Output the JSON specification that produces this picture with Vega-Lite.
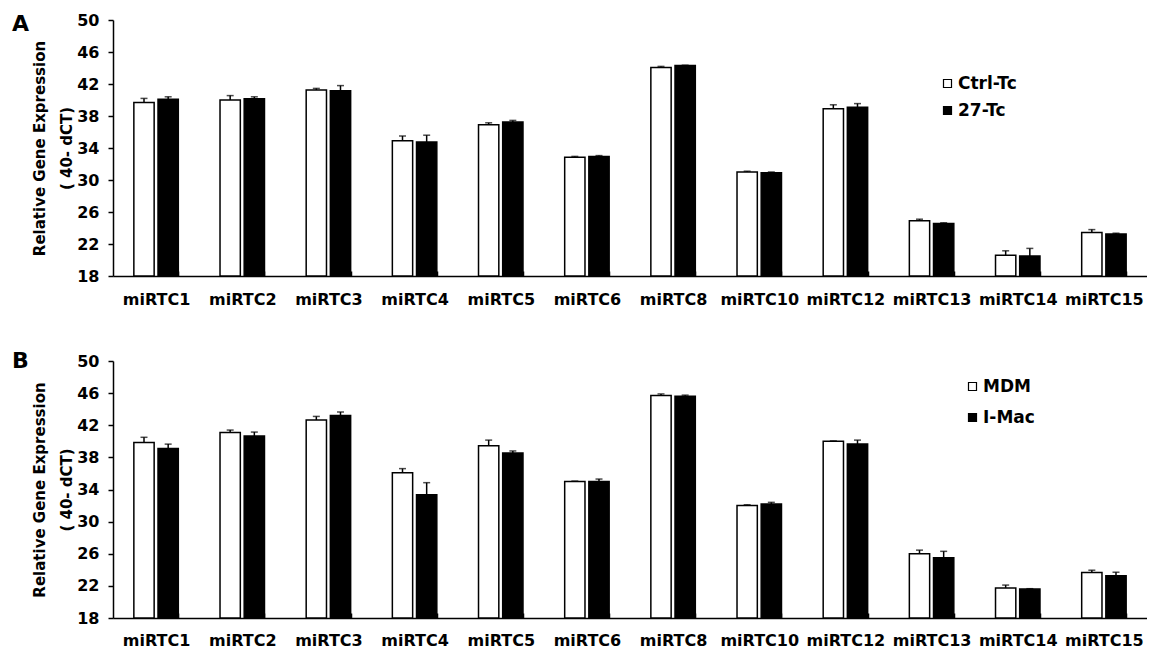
{
  "$schema": "https://vega.github.io/schema/vega-lite/v6.json",
  "background": "white",
  "padding": {"left": 12, "top": 12, "right": 0, "bottom": 0},
  "config": {
    "font": "DejaVu Sans",
    "view": {"stroke": null},
    "axis": {"domainColor": "black", "tickColor": "black", "domainWidth": 1.5, "tickWidth": 1.5, "labelColor": "black", "labelFont": "DejaVu Sans", "labelFontWeight": "bold", "titleFont": "DejaVu Sans", "titleFontWeight": "bold", "titleColor": "black", "grid": false},
    "concat": {"spacing": 43}
  },
  "datasets": {
    "d": [
      {"panel": "A", "gene": "miRTC1", "group": "Ctrl-Tc", "value": 39.7, "upper": 40.2},
      {"panel": "A", "gene": "miRTC1", "group": "27-Tc", "value": 40.1, "upper": 40.4},
      {"panel": "A", "gene": "miRTC2", "group": "Ctrl-Tc", "value": 40.0, "upper": 40.55},
      {"panel": "A", "gene": "miRTC2", "group": "27-Tc", "value": 40.15, "upper": 40.4},
      {"panel": "A", "gene": "miRTC3", "group": "Ctrl-Tc", "value": 41.25, "upper": 41.45},
      {"panel": "A", "gene": "miRTC3", "group": "27-Tc", "value": 41.15, "upper": 41.8},
      {"panel": "A", "gene": "miRTC4", "group": "Ctrl-Tc", "value": 34.9, "upper": 35.5},
      {"panel": "A", "gene": "miRTC4", "group": "27-Tc", "value": 34.75, "upper": 35.6},
      {"panel": "A", "gene": "miRTC5", "group": "Ctrl-Tc", "value": 36.9, "upper": 37.15},
      {"panel": "A", "gene": "miRTC5", "group": "27-Tc", "value": 37.25, "upper": 37.45},
      {"panel": "A", "gene": "miRTC6", "group": "Ctrl-Tc", "value": 32.85, "upper": 32.95},
      {"panel": "A", "gene": "miRTC6", "group": "27-Tc", "value": 32.95, "upper": 33.05},
      {"panel": "A", "gene": "miRTC8", "group": "Ctrl-Tc", "value": 44.05, "upper": 44.2},
      {"panel": "A", "gene": "miRTC8", "group": "27-Tc", "value": 44.3, "upper": 44.35},
      {"panel": "A", "gene": "miRTC10", "group": "Ctrl-Tc", "value": 31.0, "upper": 31.1},
      {"panel": "A", "gene": "miRTC10", "group": "27-Tc", "value": 30.9, "upper": 31.0},
      {"panel": "A", "gene": "miRTC12", "group": "Ctrl-Tc", "value": 38.9, "upper": 39.4},
      {"panel": "A", "gene": "miRTC12", "group": "27-Tc", "value": 39.1, "upper": 39.55},
      {"panel": "A", "gene": "miRTC13", "group": "Ctrl-Tc", "value": 24.9, "upper": 25.1},
      {"panel": "A", "gene": "miRTC13", "group": "27-Tc", "value": 24.55, "upper": 24.65},
      {"panel": "A", "gene": "miRTC14", "group": "Ctrl-Tc", "value": 20.6, "upper": 21.15},
      {"panel": "A", "gene": "miRTC14", "group": "27-Tc", "value": 20.5, "upper": 21.45},
      {"panel": "A", "gene": "miRTC15", "group": "Ctrl-Tc", "value": 23.45, "upper": 23.8},
      {"panel": "A", "gene": "miRTC15", "group": "27-Tc", "value": 23.25, "upper": 23.35},
      {"panel": "B", "gene": "miRTC1", "group": "MDM", "value": 39.85, "upper": 40.5},
      {"panel": "B", "gene": "miRTC1", "group": "I-Mac", "value": 39.1, "upper": 39.65},
      {"panel": "B", "gene": "miRTC2", "group": "MDM", "value": 41.1, "upper": 41.4},
      {"panel": "B", "gene": "miRTC2", "group": "I-Mac", "value": 40.65, "upper": 41.15},
      {"panel": "B", "gene": "miRTC3", "group": "MDM", "value": 42.65, "upper": 43.1},
      {"panel": "B", "gene": "miRTC3", "group": "I-Mac", "value": 43.2, "upper": 43.65},
      {"panel": "B", "gene": "miRTC4", "group": "MDM", "value": 36.1, "upper": 36.6},
      {"panel": "B", "gene": "miRTC4", "group": "I-Mac", "value": 33.35, "upper": 34.85},
      {"panel": "B", "gene": "miRTC5", "group": "MDM", "value": 39.45, "upper": 40.15},
      {"panel": "B", "gene": "miRTC5", "group": "I-Mac", "value": 38.55, "upper": 38.8},
      {"panel": "B", "gene": "miRTC6", "group": "MDM", "value": 35.0, "upper": 35.05},
      {"panel": "B", "gene": "miRTC6", "group": "I-Mac", "value": 35.0, "upper": 35.3},
      {"panel": "B", "gene": "miRTC8", "group": "MDM", "value": 45.7, "upper": 45.9},
      {"panel": "B", "gene": "miRTC8", "group": "I-Mac", "value": 45.6, "upper": 45.75},
      {"panel": "B", "gene": "miRTC10", "group": "MDM", "value": 32.0, "upper": 32.1},
      {"panel": "B", "gene": "miRTC10", "group": "I-Mac", "value": 32.2, "upper": 32.4},
      {"panel": "B", "gene": "miRTC12", "group": "MDM", "value": 40.0, "upper": 40.05},
      {"panel": "B", "gene": "miRTC12", "group": "I-Mac", "value": 39.65, "upper": 40.15},
      {"panel": "B", "gene": "miRTC13", "group": "MDM", "value": 26.0, "upper": 26.45},
      {"panel": "B", "gene": "miRTC13", "group": "I-Mac", "value": 25.5, "upper": 26.3},
      {"panel": "B", "gene": "miRTC14", "group": "MDM", "value": 21.75, "upper": 22.1},
      {"panel": "B", "gene": "miRTC14", "group": "I-Mac", "value": 21.6, "upper": 21.65},
      {"panel": "B", "gene": "miRTC15", "group": "MDM", "value": 23.65, "upper": 23.95},
      {"panel": "B", "gene": "miRTC15", "group": "I-Mac", "value": 23.25, "upper": 23.7}
    ]
  },
  "vconcat": [
    {
      "width": 1034,
      "height": 256,
      "title": {"text": "A", "anchor": "start", "frame": "group", "orient": "top", "dx": -101, "dy": 41, "baseline": "alphabetic", "fontSize": 22, "fontWeight": "bold", "color": "black", "offset": 0},
      "data": {"name": "d"},
      "transform": [{"filter": "datum.panel === 'A'"}],
      "encoding": {
        "x": {"field": "gene", "type": "nominal", "sort": ["miRTC1","miRTC2","miRTC3","miRTC4","miRTC5","miRTC6","miRTC8","miRTC10","miRTC12","miRTC13","miRTC14","miRTC15"], "scale": {"paddingInner": 0.484, "paddingOuter": 0.242}, "axis": {"title": null, "labelAngle": 0, "tickBand": "extent", "tickSize": -5, "labelPadding": 20, "labelFontSize": 16}},
        "xOffset": {"field": "group", "type": "nominal", "sort": ["Ctrl-Tc", "27-Tc"], "scale": {"paddingInner": 0.16, "paddingOuter": 0}},
        "y": {"field": "value", "type": "quantitative", "scale": {"domain": [18, 50], "zero": false, "nice": false}, "axis": {"values": [18,22,26,30,34,38,42,46,50], "title": ["Relative Gene Expression", "( 40- dCT)"], "titleFontSize": 15, "titleLineHeight": 27, "labelFontSize": 16, "tickSize": 5, "labelPadding": 9, "titlePadding": 2}}
      },
      "layer": [
        {
          "mark": {"type": "bar", "stroke": "black", "strokeWidth": 1.5},
          "encoding": {
            "y2": {"datum": 18},
            "fill": {"field": "group", "type": "nominal", "scale": {"domain": ["Ctrl-Tc", "27-Tc"], "range": ["white", "black"]}, "legend": {"title": null, "orient": "none", "legendX": 826, "legendY": 55, "symbolType": "square", "symbolSize": 64, "symbolStrokeColor": "black", "symbolStrokeWidth": 1.2, "labelFontSize": 17, "labelFontWeight": "bold", "labelColor": "black", "labelFont": "DejaVu Sans", "rowPadding": 9, "labelOffset": 2, "padding": 0}}
          }
        },
        {
          "mark": {"type": "rule", "strokeWidth": 1.5, "color": "black"},
          "encoding": {"y2": {"field": "upper"}}
        },
        {
          "mark": {"type": "tick", "size": 7, "thickness": 1.5, "color": "black"},
          "encoding": {"y": {"field": "upper", "type": "quantitative"}}
        }
      ]
    },
    {
      "width": 1034,
      "height": 257,
      "title": {"text": "B", "anchor": "start", "frame": "group", "orient": "top", "dx": -101, "dy": 37, "baseline": "alphabetic", "fontSize": 22, "fontWeight": "bold", "color": "black", "offset": 0},
      "data": {"name": "d"},
      "transform": [{"filter": "datum.panel === 'B'"}],
      "encoding": {
        "x": {"field": "gene", "type": "nominal", "sort": ["miRTC1","miRTC2","miRTC3","miRTC4","miRTC5","miRTC6","miRTC8","miRTC10","miRTC12","miRTC13","miRTC14","miRTC15"], "scale": {"paddingInner": 0.484, "paddingOuter": 0.242}, "axis": {"title": null, "labelAngle": 0, "tickBand": "extent", "tickSize": -5, "labelPadding": 19, "labelFontSize": 16}},
        "xOffset": {"field": "group", "type": "nominal", "sort": ["MDM", "I-Mac"], "scale": {"paddingInner": 0.16, "paddingOuter": 0}},
        "y": {"field": "value", "type": "quantitative", "scale": {"domain": [18, 50], "zero": false, "nice": false}, "axis": {"values": [18,22,26,30,34,38,42,46,50], "title": ["Relative Gene Expression", "( 40- dCT)"], "titleFontSize": 15, "titleLineHeight": 27, "labelFontSize": 16, "tickSize": 5, "labelPadding": 9, "titlePadding": 2}}
      },
      "layer": [
        {
          "mark": {"type": "bar", "stroke": "black", "strokeWidth": 1.5},
          "encoding": {
            "y2": {"datum": 18},
            "fill": {"field": "group", "type": "nominal", "scale": {"domain": ["MDM", "I-Mac"], "range": ["white", "black"]}, "legend": {"title": null, "orient": "none", "legendX": 851, "legendY": 17, "symbolType": "square", "symbolSize": 64, "symbolStrokeColor": "black", "symbolStrokeWidth": 1.2, "labelFontSize": 17, "labelFontWeight": "bold", "labelColor": "black", "labelFont": "DejaVu Sans", "rowPadding": 13, "labelOffset": 2, "padding": 0}}
          }
        },
        {
          "mark": {"type": "rule", "strokeWidth": 1.5, "color": "black"},
          "encoding": {"y2": {"field": "upper"}}
        },
        {
          "mark": {"type": "tick", "size": 7, "thickness": 1.5, "color": "black"},
          "encoding": {"y": {"field": "upper", "type": "quantitative"}}
        }
      ]
    }
  ],
  "resolve": {"scale": {"fill": "independent", "xOffset": "independent"}, "legend": {"fill": "independent"}}
}
